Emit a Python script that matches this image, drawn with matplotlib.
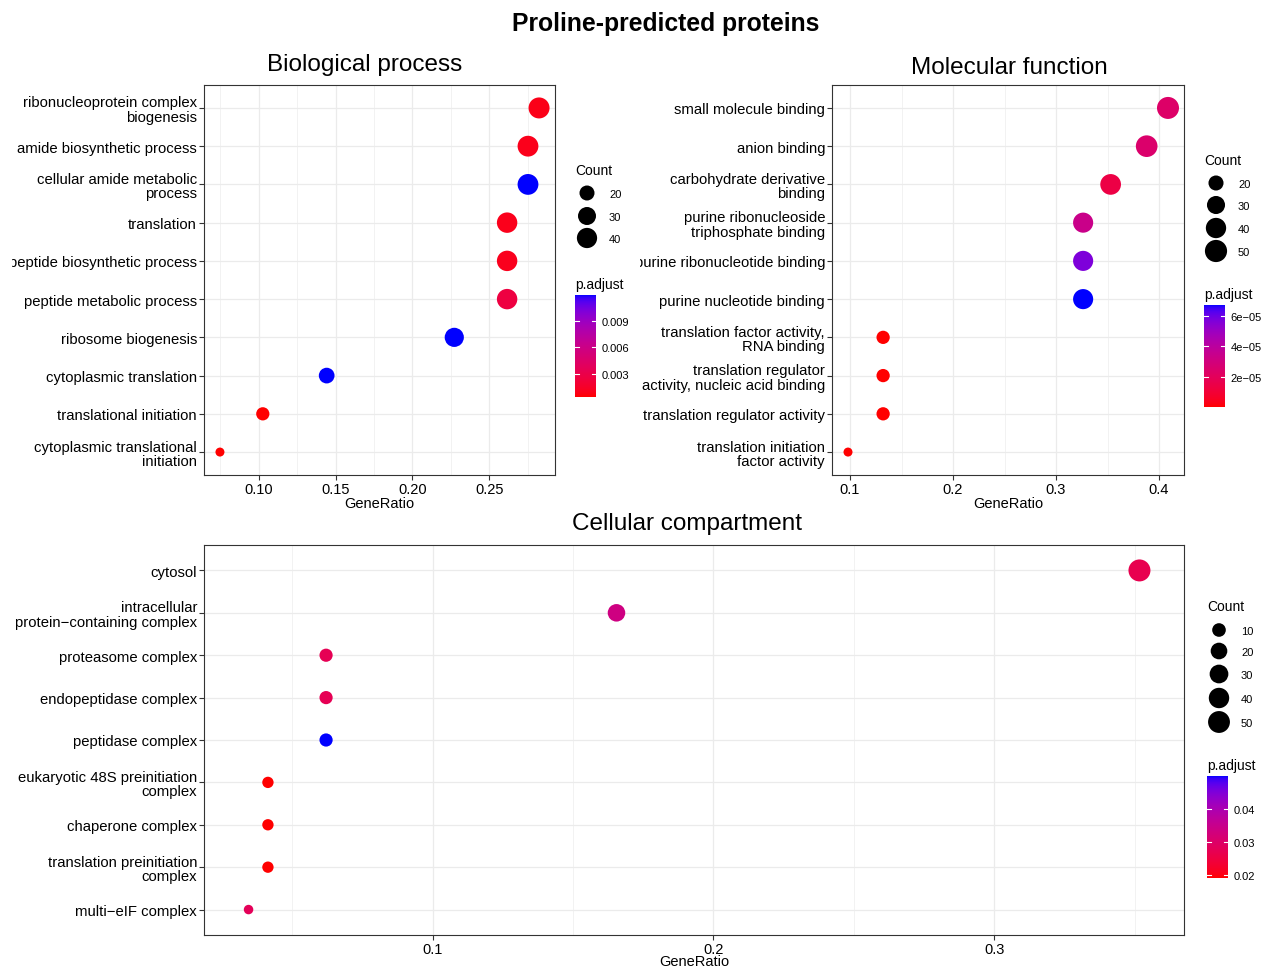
import numpy as np
import matplotlib
matplotlib.use("Agg")
import matplotlib.pyplot as plt
from matplotlib.colors import ListedColormap, Normalize
from matplotlib.transforms import Bbox

plt.rcParams['font.family'] = ['Liberation Sans', 'DejaVu Sans']

# ---------------- data ----------------
bp_terms = ["ribonucleoprotein complex\nbiogenesis", "amide biosynthetic process",
            "cellular amide metabolic\nprocess", "translation", "peptide biosynthetic process",
            "peptide metabolic process", "ribosome biogenesis", "cytoplasmic translation",
            "translational initiation", "cytoplasmic translational\ninitiation"]
bp_ratio = [0.2825, 0.2753, 0.2753, 0.2617, 0.2617, 0.2617, 0.2273, 0.1442, 0.1026, 0.0747]
bp_count = [44, 43, 43, 41, 41, 41, 35, 22, 16, 12]
bp_padj = [0.0009, 0.0010, 0.0119, 0.0010, 0.0011, 0.0026, 0.0119, 0.0119, 0.0004, 0.0004]
bp_breaks = [20, 30, 40]
bp_cticks = [0.003, 0.006, 0.009]
bp_xticks = [0.10, 0.15, 0.20, 0.25]

mf_terms = ["small molecule binding", "anion binding", "carbohydrate derivative\nbinding",
            "purine ribonucleoside\ntriphosphate binding", "purine ribonucleotide binding",
            "purine nucleotide binding", "translation factor activity,\nRNA binding",
            "translation regulator\nactivity, nucleic acid binding",
            "translation regulator activity", "translation initiation\nfactor activity"]
mf_ratio = [0.4087, 0.3880, 0.3530, 0.3263, 0.3263, 0.3263, 0.1321, 0.1321, 0.1321, 0.0980]
mf_count = [49, 47, 42, 39, 39, 39, 16, 16, 16, 12]
mf_padj = [2.4e-05, 2.5e-05, 1.4e-05, 3.4e-05, 5.7e-05, 6.72e-05, 4e-07, 4e-07, 4e-07, 3e-07]
mf_breaks = [20, 30, 40, 50]
mf_cticks = [2e-05, 4e-05, 6e-05]
mf_xticks = [0.1, 0.2, 0.3, 0.4]

cc_terms = ["cytosol", "intracellular\nprotein\u2212containing complex", "proteasome complex",
            "endopeptidase complex", "peptidase complex", "eukaryotic 48S preinitiation\ncomplex",
            "chaperone complex", "translation preinitiation\ncomplex", "multi\u2212eIF complex"]
cc_ratio = [0.3517, 0.1655, 0.0621, 0.0621, 0.0621, 0.0414, 0.0414, 0.0414, 0.0345]
cc_count = [51, 24, 9, 9, 9, 6, 6, 6, 5]
cc_padj = [0.0268, 0.0335, 0.0275, 0.0275, 0.0500, 0.0191, 0.0191, 0.0191, 0.0280]
cc_breaks = [10, 20, 30, 40, 50]
cc_cticks = [0.02, 0.03, 0.04]
cc_xticks = [0.1, 0.2, 0.3]


# ---------------- colour map (Lab interpolation like ggplot) ----------------
def srgb_to_lab(rgb):
    rgb = np.asarray(rgb, float)
    lin = np.where(rgb <= 0.04045, rgb / 12.92, ((rgb + 0.055) / 1.055) ** 2.4)
    M = np.array([[0.4124564, 0.3575761, 0.1804375],
                  [0.2126729, 0.7151522, 0.0721750],
                  [0.0193339, 0.1191920, 0.9503041]])
    xyz = M @ lin
    wp = np.array([0.95047, 1.0, 1.08883])
    t = xyz / wp
    f = np.where(t > (6 / 29) ** 3, np.cbrt(t), t / (3 * (6 / 29) ** 2) + 4 / 29)
    return np.array([116 * f[1] - 16, 500 * (f[0] - f[1]), 200 * (f[1] - f[2])])


def lab_to_srgb(lab):
    L, a, b = lab
    fy = (L + 16) / 116
    fx = fy + a / 500
    fz = fy - b / 200
    def finv(f):
        return f ** 3 if f > 6 / 29 else 3 * (6 / 29) ** 2 * (f - 4 / 29)
    wp = np.array([0.95047, 1.0, 1.08883])
    xyz = np.array([finv(fx), finv(fy), finv(fz)]) * wp
    Minv = np.array([[3.2404542, -1.5371385, -0.4985314],
                     [-0.9692660, 1.8760108, 0.0415560],
                     [0.0556434, -0.2040259, 1.0572252]])
    lin = np.clip(Minv @ xyz, 0, 1)
    rgb = np.where(lin <= 0.0031308, 12.92 * lin, 1.055 * lin ** (1 / 2.4) - 0.055)
    return np.clip(rgb, 0, 1)


lab_lo = srgb_to_lab([1, 0, 0])
lab_hi = srgb_to_lab([0, 0, 1])
cmap = ListedColormap([lab_to_srgb(lab_lo + (lab_hi - lab_lo) * t) for t in np.linspace(0, 1, 256)])

# ---------------- figure ----------------
W, H = 1263, 970
fig = plt.figure(figsize=(W / 100, H / 100), dpi=100)


def px_axes(x0, y0, x1, y1):
    return fig.add_axes([x0 / W, 1 - y1 / H, (x1 - x0) / W, (y1 - y0) / H])


def to_s(d_px):
    return (np.asarray(d_px) * 72 / 100) ** 2


def diam(c, cmin, cmax, dmin, dmax):
    c = np.asarray(c, float)
    return dmin + (dmax - dmin) * np.sqrt(np.clip((c - cmin) / (cmax - cmin), 0, None))


overlay = fig.add_axes([0, 0, 1, 1], zorder=5)
overlay.set_xlim(0, W)
overlay.set_ylim(H, 0)
overlay.axis('off')
overlay.patch.set_alpha(0)

GRID = '#EBEBEB'
DARK = '#333333'


def panel(box, terms, ratio, count, padj, dlim, xticks, fmt, title, title_xy,
          label_clip_x, leg, xlabel_y):
    ax = px_axes(*box)
    n = len(terms)
    y = np.arange(n, 0, -1)
    cmin, cmax = min(count), max(count)
    d = diam(count, cmin, cmax, *dlim)
    norm = Normalize(min(padj), max(padj))
    ax.scatter(ratio, y, s=to_s(d), c=padj, cmap=cmap, norm=norm,
               edgecolors='none', zorder=3, clip_on=False)
    r0, r1 = min(ratio), max(ratio)
    pad = 0.05 * (r1 - r0)
    ax.set_xlim(r0 - pad, r1 + pad)
    ax.set_ylim(0.4, n + 0.6)
    ax.set_yticks(y)
    ax.set_yticklabels(terms, fontsize=10.7, linespacing=1.05)
    ax.set_xticks(xticks)
    ax.set_xticklabels([fmt.format(v) for v in xticks], fontsize=10.5)
    minors = []
    step = xticks[1] - xticks[0]
    allm = np.arange(xticks[0] - 3 * step, xticks[-1] + 3 * step, step)
    for v in allm:
        m = v + step / 2
        if r0 - pad <= m <= r1 + pad:
            minors.append(m)
    ax.set_xticks(minors, minor=True)
    ax.grid(which='major', color=GRID, lw=0.9)
    ax.grid(which='minor', axis='x', color=GRID, lw=0.45)
    ax.tick_params(which='minor', length=0)
    ax.tick_params(which='major', length=3.5, width=0.8, color=DARK, labelcolor='black', pad=1.5)
    ax.set_axisbelow(True)
    for sp in ax.spines.values():
        sp.set_color(DARK)
        sp.set_linewidth(0.8)
    cx = (box[0] + box[2]) / 2
    fig.text(cx / W, 1 - xlabel_y / H, 'GeneRatio', fontsize=10.5, ha='center', va='center')
    fig.text(title_xy[0] / W, 1 - title_xy[1] / H, title, fontsize=17.5,
             ha='center', va='center')
    # clip the y labels like the reference
    if label_clip_x is not None:
        clipbox = Bbox.from_extents(label_clip_x, 0, W, H)
        for t in ax.get_yticklabels():
            t.set_clip_box(clipbox)
            t.set_clip_on(True)
    # legends
    lx, ly, rows, cb = leg
    overlay.text(lx, ly, 'Count', fontsize=10, ha='left', va='center')
    bd = diam(leg_breaks[title], cmin, cmax, *dlim)
    for b, yy, dd in zip(leg_breaks[title], rows, bd):
        overlay.scatter([lx + 12], [yy], s=to_s(dd), color='black', edgecolors='none')
        overlay.text(lx + 34, yy + 1, str(b), fontsize=8, ha='left', va='center')
    cx0, cy0, cx1, cy1 = cb
    overlay.text(cx0, cy0 - 11, 'p.adjust', fontsize=10, ha='left', va='center')
    cax = px_axes(cx0, cy0, cx1, cy1)
    cbar = fig.colorbar(plt.cm.ScalarMappable(norm=norm, cmap=cmap), cax=cax)
    cbar.outline.set_visible(False)
    ticks = leg_cticks[title]
    cbar.set_ticks(ticks)
    cbar.set_ticklabels([lab.replace('-', '\u2212') for lab in leg_clabels[title]])
    cax.tick_params(length=0, labelsize=8, pad=4)
    for tv in ticks:
        cax.plot([0, 0.2], [tv, tv], color='white', lw=0.8, transform=cax.get_yaxis_transform())
        cax.plot([0.8, 1.0], [tv, tv], color='white', lw=0.8, transform=cax.get_yaxis_transform())
    return ax


leg_breaks = {"Biological process": bp_breaks, "Molecular function": mf_breaks,
              "Cellular compartment": cc_breaks}
leg_cticks = {"Biological process": bp_cticks, "Molecular function": mf_cticks,
              "Cellular compartment": cc_cticks}
leg_clabels = {"Biological process": ["0.003", "0.006", "0.009"],
               "Molecular function": ["2e-05", "4e-05", "6e-05"],
               "Cellular compartment": ["0.02", "0.03", "0.04"]}

fig.text(666 / W, 1 - 24 / H, 'Proline-predicted proteins', fontsize=17.8,
         fontweight='bold', ha='center', va='center')

panel((204, 86, 555, 476), bp_terms, bp_ratio, bp_count, bp_padj, (9, 21),
      bp_xticks, '{:.2f}', "Biological process", (365, 65), 12,
      (575, 171, [194, 217, 239], (575, 296, 596, 398)), 504)

panel((832, 86, 1184, 476), mf_terms, mf_ratio, mf_count, mf_padj, (9, 22),
      mf_xticks, '{:g}', "Molecular function", (1009, 68), 640,
      (1204, 161, [184, 206, 229, 252], (1204, 306, 1225, 408)), 504)

panel((204, 546, 1184, 936), cc_terms, cc_ratio, cc_count, cc_padj, (9.5, 22),
      cc_xticks, '{:g}', "Cellular compartment", (687, 524), None,
      (1207, 607, [631, 652, 675, 699, 723], (1207, 777, 1228, 879)), 962)

fig.savefig('out.png', dpi=100)
